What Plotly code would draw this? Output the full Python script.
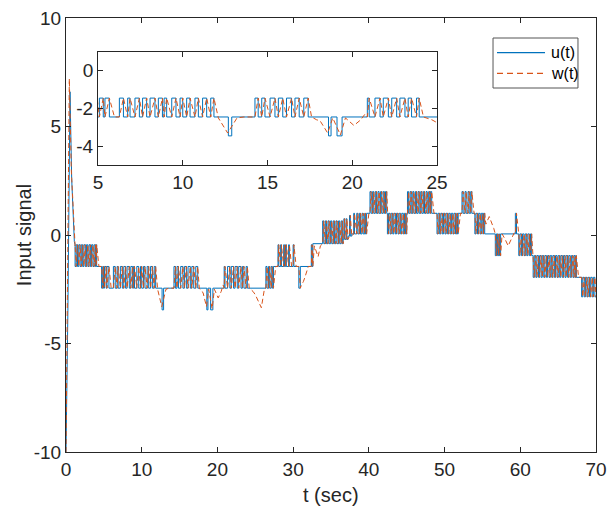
import plotly.graph_objects as go

# ---------------- data ----------------
# initial transient of u(t) and w(t) (linear segments)
u_tr_t = [0.0, 0.25, 0.53, 0.75, 1.10, 1.20]
u_tr_v = [-10.0, -3.5, 6.6, 2.6, -0.30, -0.45]
w_tr_t = [0.0, 0.20, 0.44, 0.70, 1.05, 1.20]
w_tr_v = [-10.0, -2.0, 7.2, 3.0, 0.0, -0.50]

# switching input u(t): (switch time, new level)
u_steps_a = [
    (1.20, -1.45), (1.35, -0.45), (1.52, -1.45), (1.68, -0.45), (1.86, -1.45), (2.02, -0.45),
    (2.20, -1.45), (2.36, -0.45), (2.55, -1.45), (2.70, -0.45), (2.88, -1.45), (3.04, -0.45),
    (3.22, -1.45), (3.38, -0.45), (3.56, -1.45), (3.72, -0.45), (3.90, -1.45), (3.98, -0.45),
    (4.05, -1.45),
    (4.70, -2.45), (4.85, -1.45), (4.95, -2.45), (5.08, -1.45), (5.31, -2.45), (5.41, -1.45),
    (5.67, -2.45), (6.26, -1.45), (6.50, -2.45), (6.75, -1.45), (6.89, -2.45), (7.18, -1.45),
    (7.44, -2.45), (7.63, -1.45), (7.87, -2.45), (8.07, -1.45), (8.36, -2.45), (8.56, -1.45),
    (8.80, -2.45), (8.90, -1.45), (9.05, -2.45), (9.35, -1.45), (9.60, -2.45), (9.84, -1.45),
    (10.00, -2.45), (10.23, -1.45), (10.43, -2.45), (10.72, -1.45), (10.92, -2.45), (11.17, -1.45),
    (11.41, -2.45), (11.65, -1.45), (11.84, -2.45),
    (12.69, -3.45), (12.89, -2.45),
    (14.26, -1.45), (14.45, -2.45), (14.66, -1.45), (14.85, -2.45), (15.15, -1.45), (15.44, -2.45),
    (15.64, -1.45), (15.90, -2.45), (16.12, -1.45), (16.42, -2.45), (16.62, -1.45), (16.87, -2.45),
    (17.14, -1.45), (17.40, -2.45),
    (18.60, -3.45), (18.75, -2.45), (19.10, -3.45), (19.40, -2.45),
    (20.89, -1.45), (21.00, -2.45), (21.34, -1.45), (21.64, -2.45), (21.83, -1.45), (22.13, -2.45),
    (22.33, -1.45), (22.62, -2.45), (22.81, -1.45), (23.11, -2.45), (23.30, -1.45), (23.50, -2.45),
    (23.79, -1.45), (23.95, -2.45),
]
u_steps_b = [
    (26.40, -1.45), (26.55, -2.45), (26.75, -1.45), (26.90, -2.45), (27.10, -1.45), (27.25, -2.45),
    (27.40, -1.45),
    (28.00, -0.45), (28.10, -1.45), (28.35, -0.45), (28.45, -1.45), (28.75, -0.45), (28.85, -1.45),
    (29.00, -0.45), (29.10, -1.45), (29.40, -0.45), (29.50, -1.45), (30.00, -0.45), (30.10, -1.45),
    (30.75, -2.45), (30.95, -1.45),
    (32.40, -0.45), (32.50, -1.45), (32.60, -0.40),
    (33.90, 0.65), (34.05, -0.40), (34.25, 0.65), (34.40, -0.40), (34.60, 0.65), (34.75, -0.40),
    (34.95, 0.65), (35.10, -0.40), (35.30, 0.65), (35.45, -0.40), (35.65, 0.65), (35.80, -0.40),
    (36.00, 0.65), (36.15, -0.40), (36.35, 0.65), (36.50, -0.40),
    (36.60, -0.20), (36.70, 0.75), (36.80, -0.20), (37.00, 0.75), (37.10, -0.20), (37.25, -0.05),
    (37.45, 0.90), (37.55, -0.05), (37.75, 0.05), (38.00, 1.00), (38.10, 0.05),
    (38.40, 1.00), (38.55, 0.05), (38.75, 1.00), (38.90, 0.05), (39.10, 1.00), (39.25, 0.05),
    (39.45, 1.00), (39.55, 0.05), (39.70, 1.00),
    (40.15, 2.00), (40.30, 1.00), (40.50, 2.00), (40.65, 1.00), (40.85, 2.00), (41.00, 1.00),
    (41.20, 2.00), (41.35, 1.00), (41.55, 2.00), (41.70, 1.00), (41.90, 2.00), (42.05, 1.00),
    (42.20, 2.00), (42.36, 1.00),
    (42.45, 0.05), (42.60, 1.00), (42.80, 0.05), (42.95, 1.00), (43.15, 0.05), (43.30, 1.00),
    (43.50, 0.05), (43.65, 1.00), (43.85, 0.05), (44.00, 1.00), (44.20, 0.05), (44.35, 1.00),
    (44.55, 0.05), (44.70, 1.00), (44.85, 0.05), (45.00, 1.00),
    (45.10, 2.00), (45.25, 1.00), (45.45, 2.00), (45.60, 1.00), (45.80, 2.00), (45.95, 1.00),
    (46.15, 2.00), (46.30, 1.00), (46.50, 2.00), (46.65, 1.00), (46.85, 2.00), (47.00, 1.00),
    (47.20, 2.00), (47.35, 1.00), (47.55, 2.00), (47.70, 1.00), (47.90, 2.00), (48.05, 1.00),
    (48.15, 2.00), (48.30, 1.00),
]
u_steps_c = [
    (49.00, 0.05), (49.15, 1.00), (49.35, 0.05), (49.50, 1.00), (49.70, 0.05), (49.85, 1.00),
    (50.05, 0.05), (50.20, 1.00), (50.40, 0.05), (50.55, 1.00), (50.75, 0.05), (50.90, 1.00),
    (51.10, 0.05), (51.25, 1.00), (51.45, 0.05), (51.60, 1.00), (51.70, 0.05), (51.80, 1.00),
    (52.30, 2.00), (52.45, 1.00), (52.70, 2.00), (52.85, 1.00), (53.10, 2.00), (53.25, 1.00),
    (53.45, 2.00), (53.60, 1.00),
    (54.00, 0.05), (54.15, 1.00), (54.35, 0.05), (54.50, 1.00), (54.70, 0.05), (54.85, 1.00),
    (55.05, 0.05), (55.15, 1.00), (55.30, 0.05),
    (56.70, -0.95), (56.85, 0.05), (57.00, -0.95), (57.15, 0.05), (57.25, -0.95), (57.40, 0.05),
    (59.35, 1.00), (59.50, 0.05),
    (59.80, -0.95), (59.95, 0.05), (60.15, -0.95), (60.30, 0.05), (60.50, -0.95), (60.65, 0.05),
    (60.85, -0.95), (61.00, 0.05), (61.20, -0.95), (61.35, 0.05), (61.50, -0.95),
    (61.70, -1.95), (61.85, -0.95), (62.05, -1.95), (62.20, -0.95), (62.40, -1.95), (62.55, -0.95),
    (62.75, -1.95), (62.90, -0.95), (63.10, -1.95), (63.25, -0.95), (63.45, -1.95), (63.60, -0.95),
    (63.80, -1.95), (63.95, -0.95), (64.15, -1.95), (64.30, -0.95), (64.50, -1.95), (64.65, -0.95),
    (64.85, -1.95), (65.00, -0.95), (65.20, -1.95), (65.35, -0.95), (65.55, -1.95), (65.70, -0.95),
    (65.90, -1.95), (66.05, -0.95), (66.25, -1.95), (66.40, -0.95), (66.60, -1.95), (66.75, -0.95),
    (66.95, -1.95), (67.10, -0.95), (67.25, -1.95), (67.35, -0.95), (67.40, -1.95),
    (68.10, -2.85), (68.25, -1.95), (68.45, -2.85), (68.60, -1.95), (68.80, -2.85), (68.95, -1.95),
    (69.15, -2.85), (69.30, -1.95), (69.50, -2.85), (69.65, -1.95), (69.85, -2.85), (70.00, -2.85),
]

# w(t) excursions in the quiet stretches: (from, to, [(t, w), ...])
w_excursions = [
    (11.90, 14.25, [(12.10, -2.50), (12.65, -3.30), (12.85, -3.00), (13.20, -2.50), (13.60, -2.45), (14.10, -2.45)]),
    (17.45, 20.85, [(17.60, -2.45), (17.90, -2.60), (18.10, -2.65), (18.55, -3.30), (18.85, -2.50),
                    (19.30, -3.40), (19.60, -2.50), (20.10, -2.90), (20.50, -2.60), (20.75, -2.30)]),
    (23.98, 26.38, [(24.20, -2.45), (24.70, -2.60), (25.00, -2.75), (25.80, -3.35), (26.20, -2.50)]),
    (30.96, 32.38, [(31.10, -2.30), (31.35, -2.15), (31.60, -1.90), (32.00, -1.45)]),
    (32.61, 33.88, [(32.80, -0.50), (33.30, -1.00), (33.60, -0.50)]),
    (55.31, 56.68, [(55.45, 0.50), (55.90, 0.85), (56.50, 0.30)]),
    (57.41, 59.34, [(57.60, 0.05), (58.00, -0.20), (58.40, -0.50), (58.80, -0.20), (59.20, 0.10)]),
]

x_ticks = [0, 10, 20, 30, 40, 50, 60, 70]
y_ticks = [-10, -5, 0, 5, 10]
y_tick_text = ["-10", "-5", "0", "5", "10"]
inset_x_ticks = [5, 10, 15, 20, 25]
inset_y_ticks = [-4, -2, 0]
inset_y_text = ["-4", "-2", "0"]
legend_names = ["u(t)", "w(t)"]

# ---------------- build drawing arrays ----------------
steps = u_steps_a + u_steps_b + u_steps_c

ux, uy = list(u_tr_t), list(u_tr_v)
prev = u_tr_v[-1]
for t, v in steps:
    ux += [t, t]
    uy += [prev, v]
    prev = v

# w tracks u: turns at each switch of u, settles on long plateaus
wpts = []
for i, (t, v) in enumerate(steps):
    prev_v = steps[i - 1][1] if i > 0 else u_tr_v[-1]
    wpts.append((t, prev_v))
    nxt = steps[i + 1][0] if i + 1 < len(steps) else 70.0
    if nxt - t > 0.35:
        wpts.append((t + 0.3, v))
for a, b, pts in w_excursions:
    wpts = [p for p in wpts if not (a <= p[0] <= b)] + pts
wpts.sort(key=lambda p: p[0])
wx = list(w_tr_t) + [p[0] for p in wpts]
wy = list(w_tr_v) + [p[1] for p in wpts]

BLUE = "#0072BD"
ORANGE = "#D95319"
AX = "#262626"
FONT = "Liberation Sans Narrow, Liberation Sans, Arial, sans-serif"
DASH = "5px,3px"

fig = go.Figure()
fig.add_trace(go.Scatter(x=ux, y=uy, mode="lines", name=legend_names[0], showlegend=False,
                         line=dict(color=BLUE, width=1)))
fig.add_trace(go.Scatter(x=wx, y=wy, mode="lines", name=legend_names[1], showlegend=False,
                         line=dict(color=ORANGE, width=1, dash=DASH)))
fig.add_trace(go.Scatter(x=ux, y=uy, mode="lines", showlegend=False,
                         line=dict(color=BLUE, width=1), xaxis="x2", yaxis="y2"))
fig.add_trace(go.Scatter(x=wx, y=wy, mode="lines", showlegend=False,
                         line=dict(color=ORANGE, width=1, dash=DASH), xaxis="x2", yaxis="y2"))

axis_common = dict(showline=True, linecolor=AX, linewidth=1, mirror="ticks",
                   ticks="inside", ticklen=5, tickcolor=AX, showgrid=False,
                   zeroline=False, automargin=False,
                   tickfont=dict(family=FONT, size=19, color=AX))

fig.update_layout(
    width=607, height=506,
    margin=dict(l=66, r=11, t=18, b=54),
    paper_bgcolor="white", plot_bgcolor="white",
    font=dict(family=FONT, color=AX),
    xaxis=dict(range=[0, 70], tickvals=x_ticks, domain=[0, 1], **axis_common),
    yaxis=dict(range=[-10, 10], tickvals=y_ticks, ticktext=y_tick_text, domain=[0, 1],
               **axis_common),
    xaxis2=dict(range=[5, 25], tickvals=inset_x_ticks, domain=[0.0604, 0.70], anchor="y2",
                **axis_common),
    yaxis2=dict(range=[-5, 1], tickvals=inset_y_ticks, ticktext=inset_y_text,
                domain=[0.661, 0.922], anchor="x2", **axis_common),
    showlegend=False,
)
fig.add_shape(type="rect", xref="x2 domain", yref="y2 domain", x0=0, x1=1, y0=0, y1=1,
              fillcolor="white", line=dict(width=0), layer="below")

# axis titles
fig.add_annotation(text="t (sec)", xref="paper", yref="paper", x=0.5, y=-0.099,
                   xanchor="center", yanchor="middle", showarrow=False,
                   font=dict(family=FONT, size=20, color=AX))
fig.add_annotation(text="Input signal", xref="paper", yref="paper", x=-0.079, y=0.5,
                   xanchor="center", yanchor="middle", textangle=-90, showarrow=False,
                   font=dict(family=FONT, size=20, color=AX))

# legend box (drawn like the reference's boxed legend)
fig.add_shape(type="rect", xref="paper", yref="paper", x0=0.8057, x1=0.966, y0=0.8387, y1=0.9539,
              fillcolor="white", line=dict(color="#555555", width=1), layer="above")
fig.add_shape(type="line", xref="paper", yref="paper", x0=0.8132, x1=0.9038, y0=0.920, y1=0.920,
              line=dict(color=BLUE, width=1.2), layer="above")
fig.add_shape(type="line", xref="paper", yref="paper", x0=0.8132, x1=0.9038, y0=0.8726, y1=0.8726,
              line=dict(color=ORANGE, width=1.2, dash="6px,4px"), layer="above")
fig.add_annotation(text=legend_names[0], xref="paper", yref="paper", x=0.911, y=0.920,
                   xanchor="left", yanchor="middle", showarrow=False,
                   font=dict(family=FONT, size=16, color="#000000"))
fig.add_annotation(text=legend_names[1], xref="paper", yref="paper", x=0.911, y=0.8726,
                   xanchor="left", yanchor="middle", showarrow=False,
                   font=dict(family=FONT, size=16, color="#000000"))

fig.write_html("out.html")
